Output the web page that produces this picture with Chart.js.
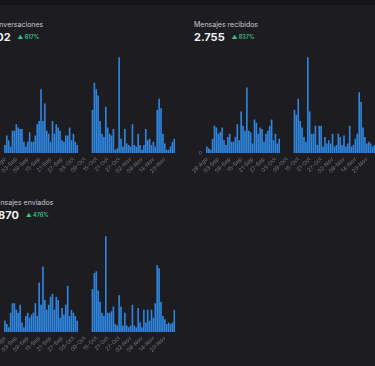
<!DOCTYPE html>
<html>
<head>
<meta charset="utf-8">
<script src="https://cdn.jsdelivr.net/npm/chart.js@4"></script>
<style>
    html, body { margin: 0; padding: 0; }
    body {
        width: 375px; height: 366px; overflow: hidden; position: relative;
        background: #1c1c21; font-family: Inter, "Noto Sans", sans-serif;
    }
    .topband { position: absolute; left: 0; top: 0; width: 375px; height: 5px; background: #151518; }
    .card { position: absolute; width: 200px; }
    .title { position: absolute; left: 0; top: 0; font-size: 7px; color: #c9c9ce; white-space: nowrap; line-height: 10px; }
    .kpi { position: absolute; left: 0; top: 10px; display: flex; align-items: center; white-space: nowrap; }
    .value { font-size: 11px; font-weight: 700; color: #f2f2f4; line-height: 14px; }
    .pct { margin-left: 7px; font-size: 5.5px; font-weight: 600; color: #37c08c; }
    canvas { position: absolute; }
</style>
</head>
<body>
<div class="topband"></div>

<div class="card" style="left:-10px; top:20px;">
    <div class="title">Conversaciones</div>
    <div class="kpi"><span class="value">702</span><span class="pct">▲ 617%</span></div>
</div>
<div class="card" style="left:194px; top:20px;">
    <div class="title">Mensajes recibidos</div>
    <div class="kpi"><span class="value">2.755</span><span class="pct">▲ 837%</span></div>
</div>
<div class="card" style="left:-10px; top:198px;">
    <div class="title">Mensajes enviados</div>
    <div class="kpi"><span class="value">1.870</span><span class="pct">▲ 476%</span></div>
</div>

<canvas id="conversacionesChart" style="left:-12px; top:47px;" width="194" height="128"></canvas>
<canvas id="recibidosChart" style="left:190px; top:47px;" width="194" height="128"></canvas>
<canvas id="enviadosChart" style="left:-12px; top:226px;" width="194" height="128"></canvas>

<script>
// Dias: 28-Ago .. 25-Nov (90 dias); hueco sin datos del 06-Oct al 12-Oct
const meses = ['Ene', 'Feb', 'Mar', 'Abr', 'May', 'Jun', 'Jul', 'Ago', 'Sep', 'Oct', 'Nov', 'Dic'];
const inicio = new Date(2024, 7, 28);
const numDias = 90;
const tickCada = 6;

const gap = [null, null, null, null, null, null, null];

const conversaciones = [].concat(
    [5, 11, 8, 4, 14, 14, 18, 16, 15, 15, 7, 4, 7, 13, 7, 7, 11, 18, 20, 40,
     20, 31, 14, 12, 7, 20, 12, 18, 16, 14, 8, 7, 11, 11, 16, 8, 12, 7, 5],
    gap,
    [27, 44, 40, 36, 20, 12, 10, 29, 16, 12, 11, 15, 2, 3, 60, 9, 4, 15, 6, 5,
     4, 18, 5, 4, 12, 5, 2, 5, 15, 8, 9, 5, 7, 4, 27, 34, 28, 12, 6, 2, 2, 4, 7, 9]
);

const recibidos = [].concat(
    [4, 3, 2, 9, 17, 16, 12, 13, 16, 8, 5, 10, 12, 7, 7, 10, 18, 8, 26, 17,
     14, 41, 14, 13, 6, 21, 19, 12, 16, 15, 7, 12, 14, 17, 21, 8, 12, 6, 9],
    gap,
    [27, 24, 34, 20, 16, 10, 7, 60, 26, 12, 12, 17, 5, 17, 17, 4, 10, 6, 8, 6,
     12, 4, 5, 12, 10, 5, 11, 4, 6, 17, 4, 5, 9, 12, 38, 32, 16, 10, 6, 7, 6, 4, 5, 6]
);

const enviados = [].concat(
    [7, 5, 3, 12, 18, 18, 14, 12, 17, 6, 3, 10, 12, 9, 11, 12, 18, 10, 31, 17,
     41, 20, 14, 17, 22, 24, 14, 22, 20, 9, 15, 11, 17, 29, 10, 14, 12, 10, 7],
    gap,
    [27, 37, 38, 26, 19, 12, 10, 60, 12, 12, 13, 16, 5, 4, 23, 16, 4, 12, 4, 3,
     4, 17, 4, 3, 15, 6, 3, 14, 6, 14, 7, 14, 9, 18, 42, 40, 19, 10, 8, 5, 6, 5, 6, 14]
);

const dias = [];
for (let i = 0; i < numDias; i++) {
    const d = new Date(inicio);
    d.setDate(inicio.getDate() + i);
    dias.push(String(d.getDate()).padStart(2, '0') + '-' + meses[d.getMonth()]);
}

function crearGrafico(id, valores) {
    const ctx = document.getElementById(id).getContext('2d');
    return new Chart(ctx, {
        type: 'bar',
        data: {
            labels: dias,
            datasets: [{
                data: valores,
                backgroundColor: '#2f87e2',
                categoryPercentage: 0.85,
                barPercentage: 1
            }]
        },
        options: {
            responsive: false,
            animation: false,
            plugins: { legend: { display: false }, tooltip: { enabled: false } },
            layout: { padding: 0 },
            scales: {
                x: {
                    grid: { display: false, drawTicks: false },
                    border: { display: false },
                    ticks: {
                        autoSkip: false,
                        minRotation: 45,
                        maxRotation: 45,
                        padding: 3,
                        color: '#77777f',
                        font: { size: 5.5, family: 'Inter' },
                        callback: (v, i) => i % tickCada === 0 ? dias[i] : ''
                    },
                    afterFit: s => { s.height = 22; }
                },
                y: {
                    min: 0,
                    max: 62,
                    grid: { display: false, drawTicks: false },
                    border: { display: false },
                    ticks: {
                        color: '#77777f',
                        padding: 4,
                        font: { size: 5, family: 'Inter' }
                    },
                    afterBuildTicks: s => { s.ticks = [{ value: 0 }]; },
                    afterFit: s => { s.width = 14; }
                }
            }
        }
    });
}

crearGrafico('conversacionesChart', conversaciones);
crearGrafico('recibidosChart', recibidos);
crearGrafico('enviadosChart', enviados);
</script>
</body>
</html>
